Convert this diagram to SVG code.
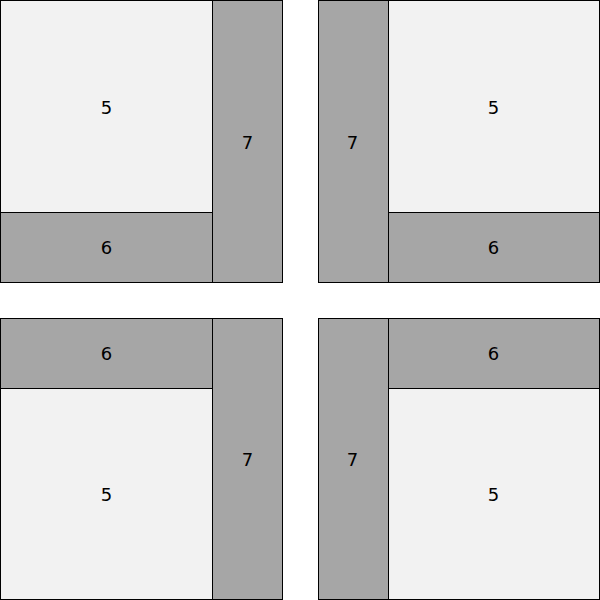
<svg xmlns="http://www.w3.org/2000/svg" width="600" height="600" viewBox="0 0 600 600">
<style>
.l{fill:#f2f2f2;stroke:#000;stroke-width:1}
.d{fill:#a6a6a6;stroke:#000;stroke-width:1}
text{font-family:"DejaVu Sans",sans-serif;font-size:18px;text-anchor:middle;dominant-baseline:central;fill:#000}
</style>
<g id="q1">
<g id="q1-5"><rect class="l" x="0.5" y="0.5" width="212" height="212"/><text x="106.5" y="107">5</text></g>
<g id="q1-6"><rect class="d" x="0.5" y="212.5" width="212" height="70"/><text x="106.5" y="247">6</text></g>
<g id="q1-7"><rect class="d" x="212.5" y="0.5" width="70" height="282"/><text x="247.5" y="142">7</text></g>
</g>
<g id="q2">
<g id="q2-7"><rect class="d" x="318.5" y="0.5" width="70" height="282"/><text x="352.5" y="142">7</text></g>
<g id="q2-5"><rect class="l" x="388.5" y="0.5" width="211" height="212"/><text x="493.5" y="107">5</text></g>
<g id="q2-6"><rect class="d" x="388.5" y="212.5" width="211" height="70"/><text x="493.5" y="247">6</text></g>
</g>
<g id="q3">
<g id="q3-6"><rect class="d" x="0.5" y="318.5" width="212" height="70"/><text x="106.5" y="353">6</text></g>
<g id="q3-5"><rect class="l" x="0.5" y="388.5" width="212" height="211"/><text x="106.5" y="494">5</text></g>
<g id="q3-7"><rect class="d" x="212.5" y="318.5" width="70" height="281"/><text x="247.5" y="459">7</text></g>
</g>
<g id="q4">
<g id="q4-7"><rect class="d" x="318.5" y="318.5" width="70" height="281"/><text x="352.5" y="459">7</text></g>
<g id="q4-6"><rect class="d" x="388.5" y="318.5" width="211" height="70"/><text x="493.5" y="353">6</text></g>
<g id="q4-5"><rect class="l" x="388.5" y="388.5" width="211" height="211"/><text x="493.5" y="494">5</text></g>
</g>
<g id="connectors"/>
</svg>
